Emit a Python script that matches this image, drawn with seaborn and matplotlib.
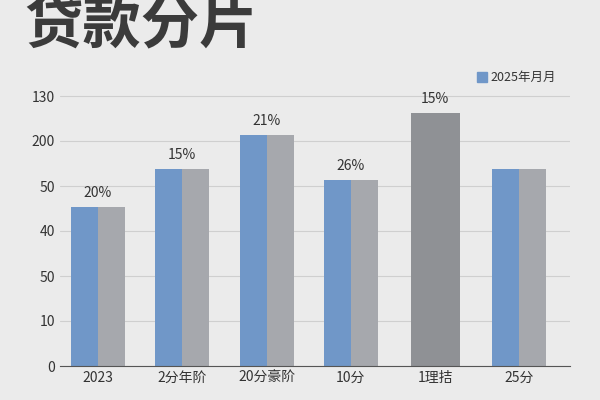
import pandas as pd
import matplotlib.pyplot as plt
import seaborn as sns

sns.set_style("whitegrid")
plt.rcParams['font.family'] = ['Noto Sans CJK SC', 'DejaVu Sans']

categories = ['2023', '2分年阶', '20分豪阶', '10分', '1理拮', '25分']
blue_vals = [3.53, 4.38, 5.13, 4.13, None, 4.38]
gray_vals = [3.53, 4.38, 5.13, 4.13, None, 4.38]
single_vals = [None, None, None, None, 5.62, None]
pct_labels = ['20%', '15%', '21%', '26%', '15%', '']
ytick_labels = ['0', '10', '50', '40', '50', '200', '130']

df = pd.DataFrame({
    'cat': categories * 2,
    'series': ['blue'] * 6 + ['gray'] * 6,
    'val': blue_vals + gray_vals,
})

bg = '#ebebeb'
fig = plt.figure(figsize=(6, 4), dpi=100, facecolor=bg)
ax = fig.add_axes([0.1, 0.085, 0.85, 0.72], facecolor=bg)

sns.barplot(data=df, x='cat', y='val', hue='series', order=categories,
            palette={'blue': '#7097c8', 'gray': '#a6a8ad'}, width=0.64,
            saturation=1, linewidth=0, ax=ax, legend=False)
for i, v in enumerate(single_vals):
    if v is not None:
        ax.bar(i, v, width=0.58, color='#8f9195', linewidth=0)

tops = [max(b or 0, g or 0, s or 0) for b, g, s in zip(blue_vals, gray_vals, single_vals)]
for i, (t, lab) in enumerate(zip(tops, pct_labels)):
    if lab:
        ax.text(i, t + 0.15, lab, ha='center', va='bottom', fontsize=10, color='#333333')

ax.set_ylim(0, 6.4)
ax.set_xlim(-0.45, 5.6)
ax.set_yticks(range(7))
ax.set_yticklabels(ytick_labels, fontsize=10, color='#333333')
ax.tick_params(axis='x', labelsize=10, colors='#333333', length=0)
ax.tick_params(axis='y', length=0)
ax.set_xlabel('')
ax.set_ylabel('')
ax.grid(axis='y', color='#cfcfcf', linewidth=0.8)
ax.grid(axis='x', visible=False)
for s in ['top', 'right', 'left']:
    ax.spines[s].set_visible(False)
ax.spines['bottom'].set_color('#555555')

fig.text(0.04, 0.935, '贷款分片', fontsize=42, fontweight='bold', color='#3b3b3b', va='center')
fig.patches.append(plt.Rectangle((0.795, 0.795), 0.016, 0.024, color='#7097c8',
                                 transform=fig.transFigure, figure=fig))
fig.text(0.817, 0.807, '2025年月月', fontsize=9, color='#333333', va='center')

fig.savefig('out.png', dpi=100, facecolor=bg)
